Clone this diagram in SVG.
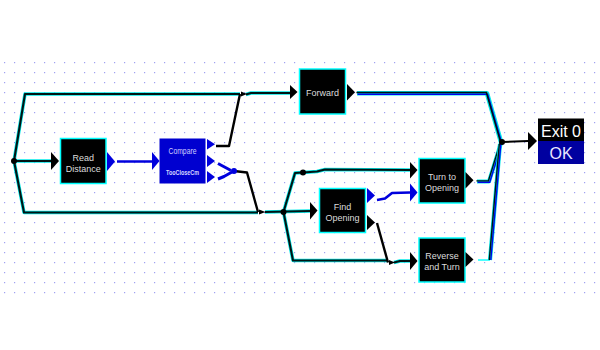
<svg xmlns="http://www.w3.org/2000/svg" width="600" height="350" viewBox="0 0 600 350">
<defs>
<pattern id="grid" x="4" y="62" width="10" height="10" patternUnits="userSpaceOnUse"><rect width="1.2" height="1.2" fill="#a0a0f0"/></pattern>
<style>
.halo{fill:none;stroke:#00e8e8;stroke-width:3.5;stroke-linejoin:round}
.core{fill:none;stroke:#001414;stroke-width:2.1;stroke-linejoin:round}
.wire{fill:none;stroke:#000;stroke-width:2.4;stroke-linejoin:round}
.bwire{fill:none;stroke:#0000dd;stroke-width:2.6;stroke-linejoin:round}
.box{fill:#000;stroke:#00ffff;stroke-width:1.5}
.lbl{font-family:"Liberation Sans",Arial,sans-serif;font-size:9px;fill:#dcdcdc;text-anchor:middle}
.tri{fill:#000}
.btri{fill:#0000dd}
.dot{fill:#000}
</style>
</defs>
<rect width="600" height="350" fill="#fff"/>
<rect x="0" y="60" width="600" height="236" fill="url(#grid)"/>

<g id="connectors">
<path class="halo" d="M14 161 L25 94 L240 94 M246 94.5 L251 93 L290 93"/>
<path class="core" d="M14 161 L25 94 L240 94 M246 94.5 L251 93 L290 93"/>
<path class="halo" d="M14 161 L51 161"/>
<path class="core" d="M14 161 L51 161"/>
<path class="halo" d="M14 161 L24 212.5 L258 212.5 M265 212 L310 211"/>
<path class="core" d="M14 161 L24 212.5 L258 212.5 M265 212 L310 211"/>
<path class="halo" d="M283.5 212 L295 173 L303 172.5 L317 171.5 L325 169.5 L410 170"/>
<path class="core" d="M283.5 212 L295 173 L303 172.5 L317 171.5 L325 169.5 L410 170"/>
<path class="halo" d="M283.5 212 L293 260.5 L388 260.5 M394 262.5 L400 261 L410 261"/>
<path class="core" d="M283.5 212 L293 260.5 L388 260.5 M394 262.5 L400 261 L410 261"/>
<path class="halo" d="M357 93.3 L487 93.3 L501 142" style="stroke-width:4.6"/>
<path d="M357 93.3 L487 93.3 L501 142" fill="none" stroke="#0000ee" stroke-width="1.6" transform="translate(0.6,0.9)"/>
<path d="M357 93.3 L487 93.3 L501 142" fill="none" stroke="#001414" stroke-width="1.6" transform="translate(-0.6,-0.8)"/>
<path class="halo" d="M477 181.5 L489 181.5 L501 143" style="stroke-width:4.2"/>
<path d="M477 181.5 L489 181.5 L501 143" fill="none" stroke="#0000ee" stroke-width="1.4" transform="translate(0.7,0.7)"/>
<path d="M477 181.5 L489 181.5 L501 143" fill="none" stroke="#001414" stroke-width="1.4" transform="translate(-0.6,-0.6)"/>
<path d="M478 260 L490 260" fill="none" stroke="#00ffff" stroke-width="1.4"/>
<path class="halo" d="M490 260 L500 144" style="stroke-width:4.2"/>
<path d="M490 260 L500 144" fill="none" stroke="#0000ee" stroke-width="1.4" transform="translate(0.8,0)"/>
<path d="M490 260 L500 144" fill="none" stroke="#001414" stroke-width="1.4" transform="translate(-0.7,0)"/>
<path class="wire" d="M502 142 L528 141" style="stroke-width:2"/>
<path class="wire" d="M216 146 L229 146 L240 94"/>
<path class="wire" d="M234 171 L247 172.5 L258 212"/>
<path class="wire" d="M377 223 L388 262.5"/>
<path class="bwire" d="M117 161.5 L153 161.5"/>
<path class="bwire" d="M218 163.5 L231 170.5" style="stroke-width:3"/>
<path class="bwire" d="M218 179 L224 176.5 L232 172" style="stroke-width:3"/>
<path class="bwire" d="M377 200 L385 198.5 L392 193 L410 192.5"/>
<path class="tri" d="M241 91.5 L241 96.5 L247 94 Z"/>
<path class="tri" d="M259 209.5 L259 214.5 L265.5 212 Z"/>
<path class="tri" d="M389 260 L389 265 L395 262.5 Z"/>
<circle class="dot" cx="14" cy="161" r="3"/>
<circle class="dot" cx="283.5" cy="212" r="3"/>
<circle class="dot" cx="303" cy="172.5" r="3"/>
<circle class="dot" cx="502" cy="142" r="3"/>
<circle cx="234" cy="171" r="3" fill="#0000dd"/>
</g>

<g id="read-distance">
<path class="tri" d="M51 152 L51 170 L59 161 Z"/>
<rect class="box" x="60.5" y="138.5" width="45.5" height="45"/>
<text class="lbl" x="83.3" y="160.5">Read</text>
<text class="lbl" x="83.3" y="171.5">Distance</text>
<path class="btri" d="M107 152 L107 171 L115 161.5 Z"/>
</g>

<g id="compare">
<path class="btri" d="M152 152 L152 170 L159.5 161 Z"/>
<rect x="159.5" y="138.5" width="46" height="45" fill="#0000d0"/>
<text class="lbl" x="182.5" y="154" textLength="28" lengthAdjust="spacingAndGlyphs" style="font-size:9.2px;fill:#d0d0ff">Compare</text>
<text class="lbl" x="182.5" y="175" textLength="33" lengthAdjust="spacingAndGlyphs" style="font-size:6.3px;font-weight:bold;fill:#d8d8ff">TooCloseCm</text>
<path class="btri" d="M207 139 L207 149.5 L215 144.2 Z"/>
<path class="btri" d="M207 155 L207 167 L215 161 Z"/>
<path class="btri" d="M207 171 L207 183 L215 177 Z"/>
</g>

<g id="forward">
<path class="tri" d="M290 85 L290 99 L297.5 92 Z"/>
<rect class="box" x="299.5" y="69" width="46" height="45"/>
<text class="lbl" x="322.5" y="96">Forward</text>
<path class="tri" d="M347 84 L347 100.5 L355 92.3 Z"/>
</g>

<g id="find-opening">
<path class="tri" d="M310 202 L310 219.5 L317.5 210.5 Z"/>
<rect class="box" x="319.5" y="188.5" width="46" height="44"/>
<text class="lbl" x="342.5" y="209.5">Find</text>
<text class="lbl" x="342.5" y="220.5">Opening</text>
<path class="btri" d="M367 188 L367 203 L375 195.5 Z"/>
<path class="tri" d="M367 215 L367 230 L375 222.5 Z"/>
</g>

<g id="turn-to-opening">
<path class="tri" d="M410 162 L410 178.5 L417.5 170 Z"/>
<path class="btri" d="M410 183.5 L410 201.5 L417.5 192.5 Z"/>
<rect class="box" x="419" y="158.5" width="46" height="44.5"/>
<text class="lbl" x="442" y="179.5">Turn to</text>
<text class="lbl" x="442" y="190.5">Opening</text>
<path class="tri" d="M465.5 172 L465.5 188.5 L473.5 180.2 Z"/>
</g>

<g id="reverse-and-turn">
<path class="tri" d="M410 252 L410 270 L417.5 261 Z"/>
<rect class="box" x="419" y="238" width="46" height="44"/>
<text class="lbl" x="442" y="259">Reverse</text>
<text class="lbl" x="442" y="269.5">and Turn</text>
<path class="tri" d="M465.5 252 L465.5 267 L473.5 259.5 Z"/>
</g>

<g id="exit">
<path class="tri" d="M528 132 L528 150 L537 141 Z"/>
<rect x="538" y="118.5" width="46" height="22.5" fill="#000"/>
<rect x="538" y="141" width="46" height="23" fill="#0000a0"/>
<text x="561" y="137" style="font-family:'Liberation Sans',Arial,sans-serif;font-size:16px;fill:#fff;text-anchor:middle">Exit 0</text>
<text x="561" y="159" style="font-family:'Liberation Sans',Arial,sans-serif;font-size:16px;fill:#e8e8ff;text-anchor:middle">OK</text>
</g>
</svg>
